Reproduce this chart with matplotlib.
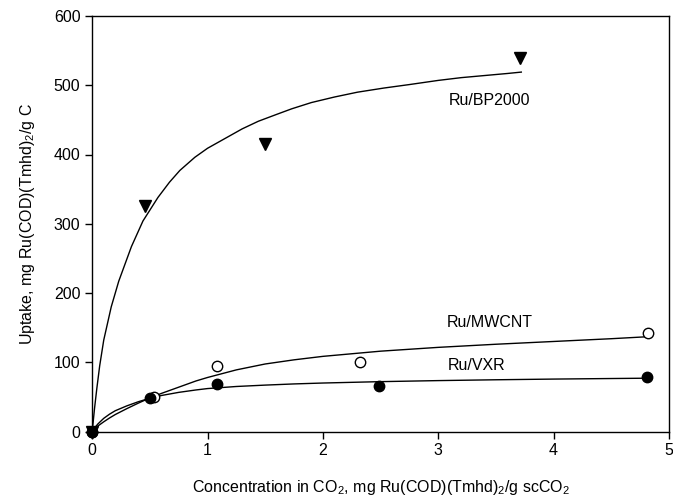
import matplotlib

matplotlib.use("Agg")
import matplotlib.pyplot as plt

plt.rcParams["font.family"] = ["Liberation Sans", "DejaVu Sans"]
plt.rcParams["mathtext.fontset"] = "custom"
plt.rcParams["mathtext.rm"] = "Liberation Sans"
plt.rcParams["mathtext.it"] = "Liberation Sans:italic"

# measured points
bp_x = [0.0, 0.46, 1.50, 3.71]
bp_y = [0.0, 326, 415, 540]
mw_x = [0.0, 0.54, 1.08, 2.32, 4.82]
mw_y = [0.0, 50, 95, 101, 142]
vx_x = [0.0, 0.50, 1.08, 2.49, 4.81]
vx_y = [0.0, 48, 68, 65, 78]

# fitted curves
bp_fit_x = [0.0, 0.02, 0.04, 0.065, 0.1, 0.165, 0.23, 0.34, 0.44, 0.57, 0.67,
            0.76, 0.89, 1.0, 1.15, 1.3, 1.44, 1.6, 1.73, 1.9, 2.1, 2.3, 2.53,
            2.75, 3.0, 3.2, 3.4, 3.6, 3.72]
bp_fit_y = [0.0, 33, 62, 95, 132, 180, 217, 267, 304, 338, 360,
            377, 396, 409, 423, 437, 448, 458, 466, 475, 483, 490, 496,
            501, 507, 511, 514, 517, 519]
mw_fit_x = [0.0, 0.025, 0.05, 0.1, 0.15, 0.2, 0.3, 0.4, 0.5, 0.6, 0.75, 0.9,
            1.0, 1.25, 1.5, 1.75, 2.0, 2.5, 3.0, 3.5, 4.0, 4.5, 4.83]
mw_fit_y = [0.0, 4, 8, 14, 19.5, 24.5, 33, 41, 48.5, 55, 64, 73,
            78, 89, 97.5, 103.5, 108.5, 116, 121.5, 126, 130, 134, 137]
vx_fit_x = [0.0, 0.025, 0.05, 0.1, 0.15, 0.2, 0.3, 0.4, 0.5, 0.6, 0.75, 0.9,
            1.0, 1.25, 1.5, 1.75, 2.0, 2.5, 3.0, 3.5, 4.0, 4.5, 4.83]
vx_fit_y = [0.0, 6, 11, 19, 25, 30, 37, 43, 48, 52, 56.5, 60,
            62, 65, 67, 68.7, 70, 72, 73.5, 74.7, 75.7, 76.5, 77]

labels = ["Ru/BP2000", "Ru/MWCNT", "Ru/VXR"]
label_pos = [(3.44, 478), (3.45, 158), (3.33, 96)]

fig = plt.figure(figsize=(6.73, 5.0), dpi=100)
ax = fig.add_axes([0.137, 0.137, 0.857, 0.831])

for fx, fy in [(bp_fit_x, bp_fit_y), (mw_fit_x, mw_fit_y), (vx_fit_x, vx_fit_y)]:
    ax.plot(fx, fy, color="black", lw=1.0, zorder=2, solid_joinstyle="round")

ax.plot(bp_x, bp_y, "v", color="black", ms=8, ls="none", zorder=3, clip_on=False)
ax.plot(mw_x, mw_y, "o", mfc="white", mec="black", mew=1.0, ms=7.5, ls="none",
        zorder=3, clip_on=False)
ax.plot(vx_x, vx_y, "o", color="black", ms=7.5, ls="none", zorder=4, clip_on=False)

for text, (tx, ty) in zip(labels, label_pos):
    ax.text(tx, ty, text, ha="center", va="center", fontsize=11.5)

ax.set_xlim(0, 5)
ax.set_ylim(0, 600)
ax.set_xticks([0, 1, 2, 3, 4, 5])
ax.set_yticks([0, 100, 200, 300, 400, 500, 600])
ax.tick_params(direction="out", length=5, width=1, labelsize=11.5, top=False, right=False)
for sp in ax.spines.values():
    sp.set_linewidth(1.0)

ax.set_xlabel("Concentration in CO$_2$, mg Ru(COD)(Tmhd)$_2$/g scCO$_2$",
              fontsize=11.5, labelpad=14)
ax.set_ylabel("Uptake, mg Ru(COD)(Tmhd)$_2$/g C", fontsize=11.5, labelpad=12)

fig.savefig("out.png", dpi=100)
